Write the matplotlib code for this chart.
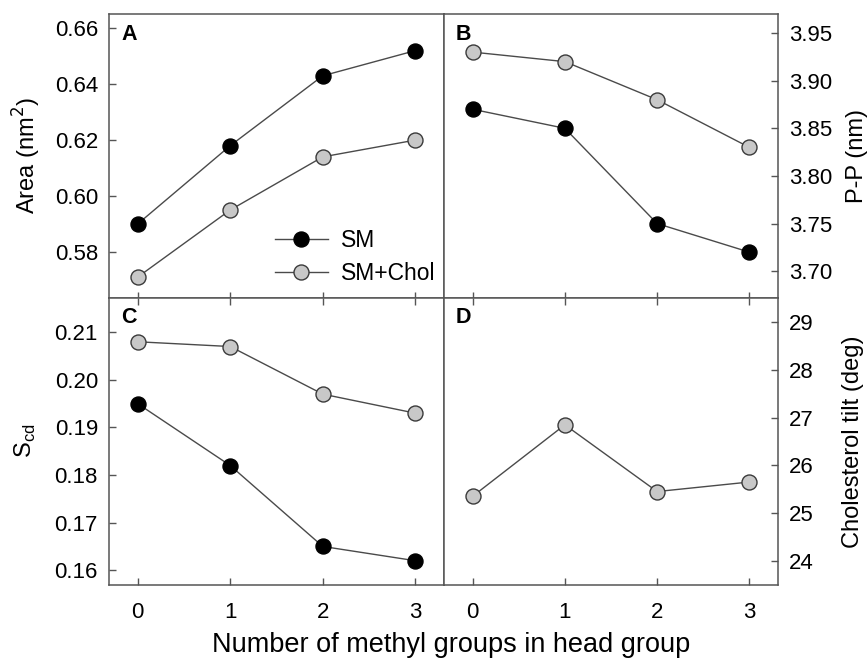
import matplotlib
matplotlib.use("Agg")
import matplotlib.pyplot as plt

plt.rcParams['font.family'] = ['Liberation Sans', 'DejaVu Sans']

methyl = [0, 1, 2, 3]
xticks = [0, 1, 2, 3]

area_sm = [0.590, 0.618, 0.643, 0.652]
area_chol = [0.571, 0.595, 0.614, 0.620]
pp_sm = [3.870, 3.850, 3.750, 3.720]
pp_chol = [3.930, 3.920, 3.880, 3.830]
scd_sm = [0.195, 0.182, 0.165, 0.162]
scd_chol = [0.208, 0.207, 0.197, 0.193]
tilt_chol = [25.35, 26.85, 25.45, 25.65]

area_ticks = [0.58, 0.60, 0.62, 0.64, 0.66]
pp_ticks = [3.70, 3.75, 3.80, 3.85, 3.90, 3.95]
scd_ticks = [0.16, 0.17, 0.18, 0.19, 0.20, 0.21]
tilt_ticks = [24, 25, 26, 27, 28, 29]

W, H = 867, 665
fig = plt.figure(figsize=(W / 100, H / 100), dpi=100)

left_px, mid_px, right_px = 109, 444, 778
top_px, midy_px, bot_px = 14, 297.5, 585

def frac_rect(x0, x1, y0, y1):
    return [x0 / W, 1 - y1 / H, (x1 - x0) / W, (y1 - y0) / H]

axA = fig.add_axes(frac_rect(left_px, mid_px, top_px, midy_px))
axB = fig.add_axes(frac_rect(mid_px, right_px, top_px, midy_px))
axC = fig.add_axes(frac_rect(left_px, mid_px, midy_px, bot_px))
axD = fig.add_axes(frac_rect(mid_px, right_px, midy_px, bot_px))

line_col = '#4a4a4a'
gray_fill = '#c8c8c8'
spine_col = '#555555'
tick_fs = 16
label_fs = 17
xlabel_fs = 19.5

def plot_sm(ax, y, label=None):
    ax.plot(methyl, y, '-o', color=line_col, lw=1.0, ms=10.8,
            mfc='black', mec='black', mew=1.0, label=label, zorder=3)

def plot_chol(ax, y, label=None):
    ax.plot(methyl, y, '-o', color=line_col, lw=1.0, ms=10.8,
            mfc=gray_fill, mec='#3a3a3a', mew=1.0, label=label, zorder=3)

plot_sm(axA, area_sm, 'SM')
plot_chol(axA, area_chol, 'SM+Chol')
plot_sm(axB, pp_sm)
plot_chol(axB, pp_chol)
plot_sm(axC, scd_sm)
plot_chol(axC, scd_chol)
plot_chol(axD, tilt_chol)

axA.set_ylim(0.5637, 0.6651)
axB.set_ylim(3.6724, 3.970)
axC.set_ylim(0.1569, 0.2173)
axD.set_ylim(23.49, 29.52)

for ax in (axA, axB, axC, axD):
    ax.set_xlim(-0.31, 3.31)
    ax.set_xticks(xticks)
    for s in ax.spines.values():
        s.set_color(spine_col)
        s.set_linewidth(1.1)

axA.set_yticks(area_ticks)
axA.set_yticklabels(['%.2f' % v for v in area_ticks])
axB.set_yticks(pp_ticks)
axB.set_yticklabels(['%.2f' % v for v in pp_ticks])
axC.set_yticks(scd_ticks)
axC.set_yticklabels(['%.2f' % v for v in scd_ticks])
axD.set_yticks(tilt_ticks)
axD.set_yticklabels([str(v) for v in tilt_ticks])

# tick configuration
for ax in (axA, axC):
    ax.tick_params(axis='y', direction='in', length=5, width=1, color=spine_col,
                   labelsize=tick_fs, pad=8, left=True, right=False,
                   labelleft=True, labelright=False)
for ax in (axB, axD):
    ax.tick_params(axis='y', direction='in', length=5, width=1, color=spine_col,
                   labelsize=tick_fs, pad=8, left=False, right=True,
                   labelleft=False, labelright=True)
for ax in (axA, axB):
    ax.tick_params(axis='x', direction='in', length=4, width=1, color=spine_col,
                   bottom=True, top=False, labelbottom=False)
for ax in (axC, axD):
    ax.tick_params(axis='x', direction='in', length=5, width=1, color=spine_col,
                   labelsize=tick_fs, pad=12, bottom=True, top=True,
                   labelbottom=True)

# axis labels
axA.set_ylabel('Area (nm$^2$)', fontsize=label_fs)
axC.set_ylabel(r'S$_{\mathregular{cd}}$', fontsize=label_fs)
axB.yaxis.set_label_position('right')
axB.set_ylabel('P-P (nm)', fontsize=label_fs)
axD.yaxis.set_label_position('right')
axD.set_ylabel('Cholesterol tilt (deg)', fontsize=label_fs)
for ax, xc in ((axA, -0.245), (axC, -0.25), (axB, 1.236), (axD, 1.225)):
    ax.yaxis.set_label_coords(xc, 0.5)
    ax.yaxis.label.set_verticalalignment('center')
    ax.yaxis.label.set_horizontalalignment('center')

fig.text(451 / W, 1 - 645 / H,
         'Number of methyl groups in head group',
         ha='center', va='center', fontsize=xlabel_fs)

# panel letters
for ax, letter in ((axA, 'A'), (axB, 'B'), (axC, 'C'), (axD, 'D')):
    ax.text(0.036, 0.966, letter, transform=ax.transAxes, ha='left', va='top',
            fontsize=15.5, fontweight='bold')

leg = axA.legend(loc='center left', bbox_to_anchor=(0.4955, 0.143),
                 frameon=False, fontsize=16.5, handlelength=2.3,
                 handletextpad=0.6, labelspacing=0.45, borderpad=0,
                 borderaxespad=0)

fig.savefig('out.png', dpi=100)
